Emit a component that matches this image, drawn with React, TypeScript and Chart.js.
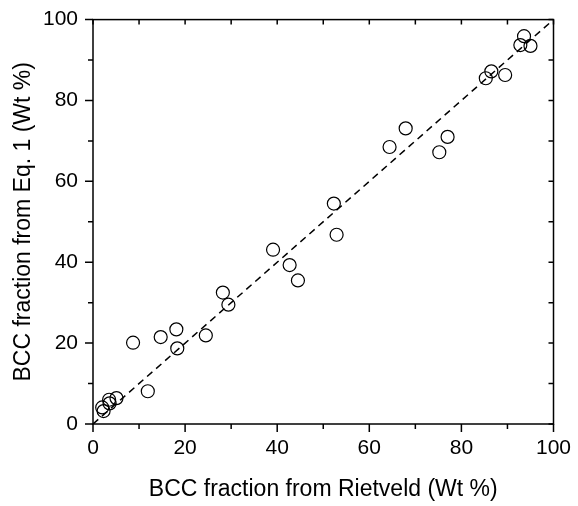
import React, { useEffect, useRef } from 'react';
import { Chart, registerables } from 'chart.js';

Chart.register(...registerables);

// BCC fraction from Rietveld (Wt %)
const rietveld = [2.0, 2.3, 3.5, 3.6, 5.1, 8.7, 11.9, 14.7, 18.1, 18.3, 24.5, 28.2, 29.4, 39.1, 42.7, 44.5, 52.3, 52.9, 64.4, 67.9, 75.2, 77.0, 85.3, 86.5, 89.5, 92.8, 93.6, 95.0];
// BCC fraction from Eq. 1 (Wt %)
const eq1 = [4.1, 3.2, 6.0, 5.1, 6.4, 20.1, 8.1, 21.5, 23.4, 18.7, 21.9, 32.5, 29.5, 43.1, 39.3, 35.5, 54.5, 46.8, 68.5, 73.1, 67.2, 71.0, 85.5, 87.2, 86.3, 93.7, 95.9, 93.5];
// 1:1 reference line
const unityX = [0, 100];
const unityY = [0, 100];

const majorTicks = [0, 20, 40, 60, 80, 100];
const minorTicks = [10, 30, 50, 70, 90];

const xTitle = 'BCC fraction from Rietveld (Wt %)';
const yTitle = 'BCC fraction from Eq. 1 (Wt %)';

const FONT = '"Liberation Sans", Arial, Helvetica, sans-serif';

const framePlugin = {
  id: 'frameTicks',
  afterDraw(chart: any) {
    const { ctx, chartArea, scales } = chart;
    const { left, right, top, bottom } = chartArea;
    const x = scales.x;
    const y = scales.y;
    ctx.save();
    ctx.strokeStyle = '#000';
    ctx.lineWidth = 1.5;
    ctx.strokeRect(left, top, right - left, bottom - top);
    ctx.beginPath();
    const drawTick = (v: number, major: boolean) => {
      const outLen = major ? 8 : 5;
      const inLen = 5;
      const px = x.getPixelForValue(v);
      ctx.moveTo(px, bottom);
      ctx.lineTo(px, bottom + outLen);
      ctx.moveTo(px, top);
      ctx.lineTo(px, top + inLen);
      const py = y.getPixelForValue(v);
      ctx.moveTo(left, py);
      ctx.lineTo(left - outLen, py);
      ctx.moveTo(right, py);
      ctx.lineTo(right - inLen, py);
    };
    majorTicks.forEach((v) => drawTick(v, true));
    minorTicks.forEach((v) => drawTick(v, false));
    ctx.stroke();
    ctx.restore();
  },
};

export default function App() {
  const ref = useRef<HTMLCanvasElement | null>(null);

  useEffect(() => {
    if (!ref.current) return;
    const chart = new Chart(ref.current, {
      type: 'scatter',
      data: {
        datasets: [
          {
            type: 'line',
            data: unityX.map((v, i) => ({ x: v, y: unityY[i] })),
            borderColor: '#000',
            borderWidth: 1.5,
            borderDash: [7, 5],
            pointRadius: 0,
            fill: false,
          } as any,
          {
            data: rietveld.map((v, i) => ({ x: v, y: eq1[i] })),
            pointStyle: 'circle',
            pointRadius: 6.5,
            pointBorderWidth: 1.2,
            borderColor: '#000',
            backgroundColor: 'rgba(0,0,0,0)',
            pointBackgroundColor: 'rgba(0,0,0,0)',
            pointBorderColor: '#000',
          } as any,
        ],
      },
      options: {
        animation: false,
        responsive: false,
        events: [],
        layout: { padding: { top: 15, right: 24.5, left: 0, bottom: 0 } },
        plugins: {
          legend: { display: false },
          tooltip: { enabled: false },
        },
        scales: {
          x: {
            type: 'linear',
            min: 0,
            max: 100,
            grid: { display: false },
            border: { display: false },
            ticks: {
              stepSize: 20,
              padding: 4,
              color: '#000',
              font: { family: FONT, size: 21 },
            },
            title: {
              display: true,
              text: xTitle,
              color: '#000',
              font: { family: FONT, size: 23 },
              padding: { top: 0, bottom: 3 },
            },
            afterFit: (s: any) => {
              s.height = 82;
            },
          },
          y: {
            type: 'linear',
            min: 0,
            max: 100,
            grid: { display: false },
            border: { display: false },
            ticks: {
              stepSize: 20,
              padding: 7,
              color: '#000',
              font: { family: FONT, size: 21 },
            },
            title: {
              display: true,
              text: yTitle,
              color: '#000',
              font: { family: FONT, size: 23 },
              padding: { top: 10, bottom: 0 },
            },
            afterFit: (s: any) => {
              s.width = 93;
            },
          },
        },
      },
      plugins: [framePlugin],
    });
    return () => chart.destroy();
  }, []);

  return (
    <div style={{ position: 'absolute', left: 0, top: 0, width: 578, height: 506, background: '#fff' }}>
      <canvas ref={ref} width={578} height={506} style={{ width: 578, height: 506 }} />
    </div>
  );
}
